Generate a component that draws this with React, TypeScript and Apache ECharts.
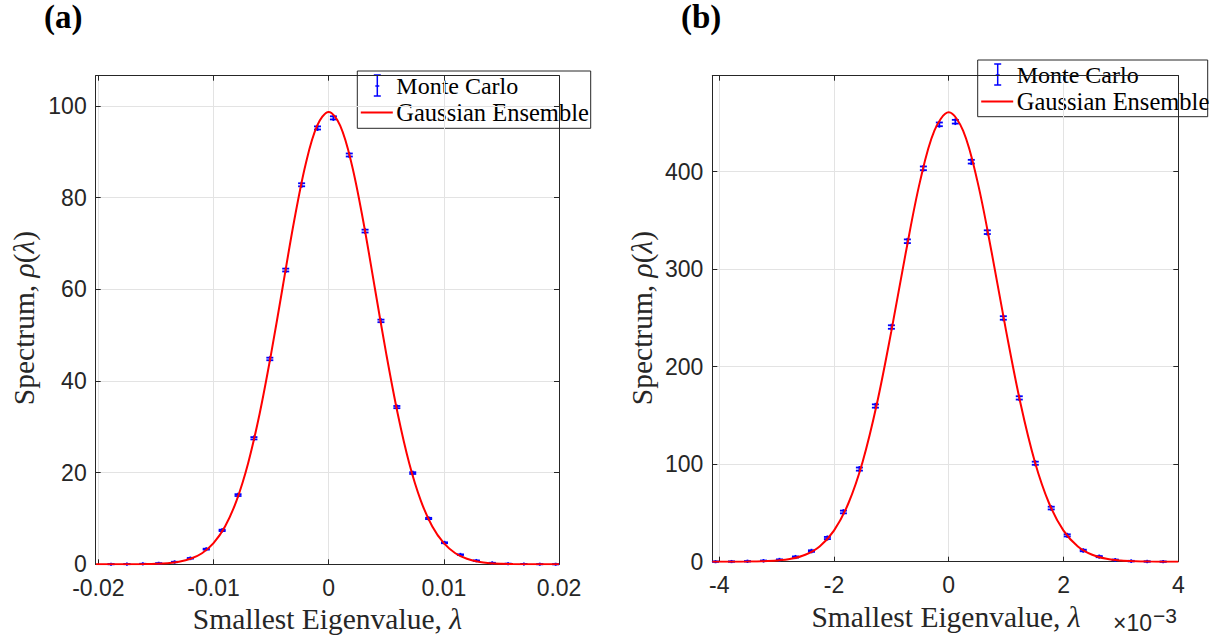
import React, { useEffect, useRef } from 'react';
import * as echarts from 'echarts';

// ---------- Panel (a) ----------
const aMcX = [-0.0189, -0.01752, -0.01614, -0.01476, -0.01338, -0.01201, -0.01063, -0.00925, -0.00787, -0.00649,
  -0.00511, -0.00373, -0.00235, -0.00097, 0.00041, 0.00179, 0.00316, 0.00454, 0.00592, 0.0073,
  0.00868, 0.01006, 0.01144, 0.01282, 0.0142, 0.01558, 0.01695, 0.01833, 0.01971];
const aMcY = [0.02, 0.04, 0.1, 0.2, 0.5, 1.3, 3.3, 7.4, 15.1, 27.5,
  44.8, 64.2, 82.8, 95.2, 97.4, 89.3, 72.7, 53.1, 34.3, 19.9,
  10.0, 4.7, 2.1, 0.8, 0.3, 0.12, 0.05, 0.02, 0.01];
const aMcErr = [0.01, 0.02, 0.02, 0.03, 0.05, 0.07, 0.1, 0.15, 0.2, 0.25,
  0.28, 0.31, 0.33, 0.34, 0.34, 0.33, 0.31, 0.28, 0.24, 0.19,
  0.14, 0.1, 0.07, 0.04, 0.03, 0.02, 0.01, 0.01, 0.01];
const aCurveX = [-0.0202, -0.019, -0.018, -0.017, -0.016, -0.015, -0.014, -0.013, -0.012, -0.011, -0.01,
  -0.009, -0.008, -0.007, -0.006, -0.005, -0.004, -0.003, -0.002, -0.001, 0,
  0.001, 0.002, 0.003, 0.004, 0.005, 0.006, 0.007, 0.008, 0.009, 0.01,
  0.011, 0.012, 0.013, 0.014, 0.015, 0.016, 0.017, 0.018, 0.019, 0.02];
const aCurveY = [0.0, 0.002, 0.005, 0.015, 0.04, 0.1, 0.24, 0.56, 1.2, 2.42, 4.61,
  8.24, 13.9, 22.0, 32.8, 45.9, 60.4, 74.9, 87.3, 95.7, 98.7,
  95.7, 87.3, 74.9, 60.4, 45.9, 32.8, 22.0, 13.9, 8.24, 4.61,
  2.42, 1.2, 0.56, 0.24, 0.1, 0.04, 0.015, 0.005, 0.002, 0.0];
const aXTicks = [-0.02, -0.01, 0, 0.01, 0.02];
const aYTicks = [0, 20, 40, 60, 80, 100];
const aXRange = [-0.02023, 0.02];
const aYRange = [0, 106.6];

// ---------- Panel (b) (x in units of 1e-3) ----------
const bMcX = [-4.064, -3.785, -3.507, -3.228, -2.95, -2.671, -2.392, -2.114, -1.835, -1.557,
  -1.278, -0.999, -0.721, -0.442, -0.164, 0.115, 0.393, 0.672, 0.951, 1.229,
  1.508, 1.786, 2.065, 2.344, 2.622, 2.901, 3.179, 3.458, 3.736];
const bMcY = [0.05, 0.15, 0.4, 0.9, 2.0, 4.8, 10.9, 24.3, 51, 95,
  159.7, 240.7, 328.7, 403.5, 448.6, 451.3, 410.3, 338, 250, 168,
  101, 55, 27, 11.5, 5.2, 1.8, 0.6, 0.2, 0.06];
const bMcErr = [0.1, 0.1, 0.2, 0.3, 0.4, 0.6, 0.8, 1.1, 1.4, 1.6,
  1.7, 1.8, 1.9, 1.9, 1.9, 1.9, 1.9, 1.9, 1.8, 1.7,
  1.6, 1.4, 1.1, 0.8, 0.6, 0.4, 0.3, 0.2, 0.1];
const bCurveX = [-4.12, -4.0, -3.75, -3.5, -3.25, -3.0, -2.75, -2.5, -2.25, -2.0, -1.75,
  -1.5, -1.25, -1.0, -0.75, -0.5, -0.25, 0, 0.25, 0.5, 0.75,
  1.0, 1.25, 1.5, 1.75, 2.0, 2.25, 2.5, 2.75, 3.0, 3.25,
  3.5, 3.75, 4.0];
const bCurveY = [0.005, 0.01, 0.04, 0.13, 0.4, 1.13, 2.95, 7.12, 15.7, 31.9, 59.7,
  102.6, 162.5, 236.5, 316.6, 390.1, 442.1, 460.9, 442.1, 390.1, 316.6,
  236.5, 162.5, 102.6, 59.7, 31.9, 15.7, 7.12, 2.95, 1.13, 0.4,
  0.13, 0.04, 0.01];
const bXTicks = [-4, -2, 0, 2, 4];
const bYTicks = [0, 100, 200, 300, 400];
const bXRange = [-4.12, 4.0];
const bYRange = [0, 498.5];

const legendNames = ['Monte Carlo', 'Gaussian Ensemble'];
const xTitle = 'Smallest Eigenvalue, ';
const yTitle = 'Spectrum, ';

const AX = '#262626';
const GRIDC = '#e3e3e3';
const SANS = 'Liberation Sans, Arial, sans-serif';
const SERIF = 'Liberation Serif, Times New Roman, serif';

function mainX(grid: number, range: number[], ticks: number[]) {
  return {
    type: 'value', gridIndex: grid, position: 'bottom', min: range[0], max: range[1],
    axisLine: { show: true, onZero: false, lineStyle: { color: AX, width: 1 } },
    axisTick: { show: true, inside: true, length: 5, customValues: ticks, lineStyle: { color: AX } },
    axisLabel: { show: true, customValues: ticks, margin: 12, color: AX, fontSize: 23, fontFamily: SANS },
    splitLine: { show: true, lineStyle: { color: GRIDC, width: 1 } },
  };
}
function mirrorX(grid: number, range: number[], ticks: number[]) {
  return {
    type: 'value', gridIndex: grid, position: 'top', min: range[0], max: range[1],
    axisLine: { show: true, onZero: false, lineStyle: { color: AX, width: 1 } },
    axisTick: { show: true, inside: true, length: 5, customValues: ticks, lineStyle: { color: AX } },
    axisLabel: { show: false },
    splitLine: { show: false },
  };
}
function mainY(grid: number, range: number[], ticks: number[]) {
  return {
    type: 'value', gridIndex: grid, position: 'left', min: range[0], max: range[1],
    axisLine: { show: true, onZero: false, lineStyle: { color: AX, width: 1 } },
    axisTick: { show: true, inside: true, length: 5, customValues: ticks, lineStyle: { color: AX } },
    axisLabel: { show: true, customValues: ticks, margin: 9, color: AX, fontSize: 23, fontFamily: SANS },
    splitLine: { show: true, lineStyle: { color: GRIDC, width: 1 } },
  };
}
function mirrorY(grid: number, range: number[], ticks: number[]) {
  return {
    type: 'value', gridIndex: grid, position: 'right', min: range[0], max: range[1],
    axisLine: { show: true, onZero: false, lineStyle: { color: AX, width: 1 } },
    axisTick: { show: true, inside: true, length: 5, customValues: ticks, lineStyle: { color: AX } },
    axisLabel: { show: false },
    splitLine: { show: false },
  };
}

function errRender(params: any, api: any) {
  const x = api.value(0);
  const y = api.value(1);
  const e = api.value(2);
  const top = api.coord([x, y + e]);
  const bot = api.coord([x, y - e]);
  const mid = api.coord([x, y]);
  const hw = 3.5;
  const style = { stroke: '#0000ff', lineWidth: 1.8 };
  return {
    type: 'group',
    children: [
      { type: 'line', shape: { x1: mid[0], y1: top[1] - 1.5, x2: mid[0], y2: bot[1] + 1.5 }, style },
      { type: 'line', shape: { x1: mid[0] - hw, y1: top[1], x2: mid[0] + hw, y2: top[1] }, style },
      { type: 'line', shape: { x1: mid[0] - hw, y1: bot[1], x2: mid[0] + hw, y2: bot[1] }, style },
    ],
  };
}

function legendGraphic(x: number, y: number, w: number, h: number) {
  const blue = { stroke: '#0000ff', lineWidth: 1.5 };
  return {
    type: 'group', x, y, z: 100,
    children: [
      { type: 'rect', shape: { x: 0, y: 0, width: w, height: h }, style: { fill: '#ffffff', stroke: AX, lineWidth: 1 } },
      { type: 'line', shape: { x1: 20, y1: 4, x2: 20, y2: 25 }, style: blue },
      { type: 'line', shape: { x1: 16.5, y1: 4, x2: 23.5, y2: 4 }, style: blue },
      { type: 'line', shape: { x1: 16.5, y1: 25, x2: 23.5, y2: 25 }, style: blue },
      { type: 'line', shape: { x1: 18, y1: 15, x2: 22, y2: 15 }, style: blue },
      { type: 'text', x: 39, y: 14.5, style: { text: legendNames[0], font: '24px ' + SERIF, fill: '#000', verticalAlign: 'middle', align: 'left' } },
      { type: 'line', shape: { x1: 3.5, y1: 41.5, x2: 35.5, y2: 41.5 }, style: { stroke: '#ff0000', lineWidth: 2 } },
      { type: 'text', x: 39, y: 41.5, style: { text: legendNames[1], font: '24.5px ' + SERIF, fill: '#000', verticalAlign: 'middle', align: 'left' } },
    ],
  };
}

function xTitleGraphic(cx: number, cy: number) {
  return {
    type: 'text', x: cx, y: cy,
    style: {
      text: xTitle + '{i|λ}', align: 'center', verticalAlign: 'middle',
      font: '29.5px ' + SERIF, fill: AX,
      rich: { i: { fontStyle: 'italic', fontSize: 29.5, fontFamily: SERIF, fill: AX } },
    },
  };
}
function yTitleGraphic(cx: number, cy: number) {
  return {
    type: 'text', x: cx, y: cy, rotation: Math.PI / 2,
    style: {
      text: yTitle + '{i|ρ}(' + '{i|λ})', align: 'center', verticalAlign: 'middle',
      font: '29.5px ' + SERIF, fill: AX,
      rich: { i: { fontStyle: 'italic', fontSize: 29.5, fontFamily: SERIF, fill: AX } },
    },
  };
}

export default function App() {
  const ref = useRef<HTMLDivElement>(null);
  useEffect(() => {
    document.body.style.margin = '0';
    const chart = echarts.init(ref.current as HTMLDivElement, undefined, { renderer: 'svg' });
    const option: any = {
      animation: false,
      backgroundColor: '#ffffff',
      grid: [
        { left: 95.7, top: 75.7, width: 463.3, height: 488.6 },
        { left: 712.3, top: 75.7, width: 466, height: 486 },
      ],
      xAxis: [
        mainX(0, aXRange, aXTicks),
        mainX(1, bXRange, bXTicks),
        mirrorX(0, aXRange, aXTicks),
        mirrorX(1, bXRange, bXTicks),
      ],
      yAxis: [
        mainY(0, aYRange, aYTicks),
        mainY(1, bYRange, bYTicks),
        mirrorY(0, aYRange, aYTicks),
        mirrorY(1, bYRange, bYTicks),
      ],
      series: [
        {
          name: legendNames[0], type: 'custom', xAxisIndex: 0, yAxisIndex: 0, z: 3,
          renderItem: errRender, encode: { x: 0, y: 1 },
          data: aMcX.map((x, i) => [x, aMcY[i], aMcErr[i]]),
        },
        {
          name: legendNames[1], type: 'line', xAxisIndex: 0, yAxisIndex: 0, z: 4,
          showSymbol: false, symbol: 'none', smooth: 0.35,
          lineStyle: { color: '#ff0000', width: 2 },
          data: aCurveX.map((x, i) => [x, aCurveY[i]]),
        },
        {
          name: legendNames[0], type: 'custom', xAxisIndex: 1, yAxisIndex: 1, z: 3,
          renderItem: errRender, encode: { x: 0, y: 1 },
          data: bMcX.map((x, i) => [x, bMcY[i], bMcErr[i]]),
        },
        {
          name: legendNames[1], type: 'line', xAxisIndex: 1, yAxisIndex: 1, z: 4,
          showSymbol: false, symbol: 'none', smooth: 0.35,
          lineStyle: { color: '#ff0000', width: 2 },
          data: bCurveX.map((x, i) => [x, bCurveY[i]]),
        },
      ],
      graphic: [
        { type: 'text', x: 44, y: 0, style: { text: '(a)', font: 'bold 33px ' + SERIF, fill: '#000' } },
        { type: 'text', x: 681, y: 0, style: { text: '(b)', font: 'bold 33px ' + SERIF, fill: '#000' } },
        xTitleGraphic(327.4, 619),
        xTitleGraphic(946, 617),
        yTitleGraphic(24, 318),
        yTitleGraphic(642, 318),
        { type: 'text', x: 1152, y: 634, style: { text: '×10', font: '23px ' + SANS, fill: AX, align: 'right', verticalAlign: 'bottom' } },
        { type: 'text', x: 1153, y: 605, style: { text: '−3', font: '21px ' + SANS, fill: AX, align: 'left', verticalAlign: 'top' } },
        legendGraphic(357.3, 71, 233.4, 57.3),
        legendGraphic(977.7, 60, 230, 56.7),
      ],
    };
    chart.setOption(option);
    return () => chart.dispose();
  }, []);
  return <div ref={ref} style={{ width: 1215, height: 640 }} />;
}
